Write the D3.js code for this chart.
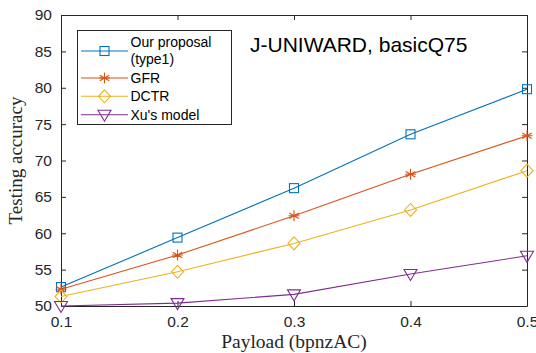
<!DOCTYPE html>
<html>
<head>
<meta charset="utf-8">
<script src="https://cdn.jsdelivr.net/npm/d3@7"></script>
<style>
  html, body { margin: 0; padding: 0; background: #fff; }
  svg { display: block; }
</style>
</head>
<body>
<svg id="chart" width="536" height="353"></svg>
<script>
// Payload values on the x axis
const payloads = [0.1, 0.2, 0.3, 0.4, 0.5];

// Testing accuracy (%) per detector
const ourProposal = [52.6, 59.4, 66.2, 73.6, 79.8];
const gfr         = [52.3, 57.0, 62.4, 68.1, 73.4];
const dctr        = [51.3, 54.7, 58.6, 63.2, 68.6];
const xuModel     = [50.0, 50.4, 51.6, 54.4, 56.9];

const seriesNames = ["Our proposal", "GFR", "DCTR", "Xu's model"];
const xTicks = [0.1, 0.2, 0.3, 0.4, 0.5];
const yTicks = [50, 55, 60, 65, 70, 75, 80, 85, 90];

const series = [
  { name: seriesNames[0], values: ourProposal, color: "#0072BD", marker: "square" },
  { name: seriesNames[1], values: gfr,         color: "#D95319", marker: "asterisk" },
  { name: seriesNames[2], values: dctr,        color: "#EDB120", marker: "diamond" },
  { name: seriesNames[3], values: xuModel,     color: "#7E2F8E", marker: "triangleDown" }
];

const svg = d3.select("#chart");
const plotLeft = 61, plotRight = 527, plotTop = 15, plotBottom = 306;

const x = d3.scaleLinear().domain([0.1, 0.5]).range([plotLeft, plotRight]);
const y = d3.scaleLinear().domain([50, 90]).range([plotBottom, plotTop]);

const axisColor = "#262626";
const sansFont = "Helvetica, Arial, 'Liberation Sans', sans-serif";
const serifFont = "'Liberation Serif', 'Times New Roman', serif";
const tickLen = 5;

// Axes: ticks pointing inward, mirrored on top and right
const gx = svg.append("g").attr("transform", `translate(0,${plotBottom})`)
  .call(d3.axisBottom(x).tickValues(xTicks).tickFormat(d3.format(".1f")).tickSizeInner(-tickLen).tickSizeOuter(0).tickPadding(10));
const gxTop = svg.append("g").attr("transform", `translate(0,${plotTop})`)
  .call(d3.axisTop(x).tickValues(xTicks).tickFormat("").tickSizeInner(-tickLen).tickSizeOuter(0));
const gy = svg.append("g").attr("transform", `translate(${plotLeft},0)`)
  .call(d3.axisLeft(y).tickValues(yTicks).tickSizeInner(-tickLen).tickSizeOuter(0).tickPadding(9));
const gyRight = svg.append("g").attr("transform", `translate(${plotRight},0)`)
  .call(d3.axisRight(y).tickValues(yTicks).tickFormat("").tickSizeInner(-tickLen).tickSizeOuter(0));

[gx, gxTop, gy, gyRight].forEach(g => {
  g.select(".domain").attr("stroke", axisColor).attr("stroke-width", 1);
  g.selectAll(".tick line").attr("stroke", axisColor).attr("stroke-width", 1);
  g.selectAll(".tick text").attr("fill", axisColor)
    .style("font-family", sansFont).style("font-size", "15.5px");
});

// Axis labels
svg.append("text")
  .attr("x", (plotLeft + plotRight) / 2).attr("y", 348)
  .attr("text-anchor", "middle")
  .style("font-family", serifFont)
  .style("font-size", "19.5px").attr("fill", axisColor)
  .text("Payload (bpnzAC)");

svg.append("text")
  .attr("transform", `translate(22,${(plotTop + plotBottom) / 2}) rotate(-90)`)
  .attr("text-anchor", "middle")
  .style("font-family", serifFont)
  .style("font-size", "19px").attr("fill", axisColor)
  .text("Testing accuracy");

// Title inside the plot
svg.append("text")
  .attr("x", 250).attr("y", 51.5)
  .attr("text-anchor", "start")
  .style("font-family", sansFont)
  .style("font-size", "21px").attr("fill", "#000")
  .text("J-UNIWARD, basicQ75");

// Marker drawing helper
function drawMarker(g, kind, cx, cy, color) {
  const s = g.append("g").attr("transform", `translate(${cx},${cy})`);
  const common = el => el.attr("fill", "none").attr("stroke", color).attr("stroke-width", 1.1);
  if (kind === "square") {
    common(s.append("rect").attr("x", -4.5).attr("y", -4.5).attr("width", 9).attr("height", 9));
  } else if (kind === "diamond") {
    common(s.append("path").attr("d", "M0,-6.5L6,0L0,6.5L-6,0Z"));
  } else if (kind === "triangleDown") {
    common(s.append("path").attr("d", "M-6.5,-4.5L6.5,-4.5L0,6.5Z"));
  } else if (kind === "asterisk") {
    const r = 5.5;
    const d = [0, 60, 120].map(a => {
      const t = a * Math.PI / 180;
      return `M${-r * Math.sin(t)},${-r * Math.cos(t)}L${r * Math.sin(t)},${r * Math.cos(t)}`;
    }).join("") + `M${-r},0L${r},0`;
    common(s.append("path").attr("d", d));
  }
}

// Lines and markers
const line = d3.line().x((d, i) => x(payloads[i])).y(d => y(d));
series.forEach(s => {
  svg.append("path").datum(s.values)
    .attr("d", line).attr("fill", "none")
    .attr("stroke", s.color).attr("stroke-width", 1.1);
  const mg = svg.append("g");
  s.values.forEach((v, i) => drawMarker(mg, s.marker, x(payloads[i]), y(v), s.color));
});

// Legend
const legend = svg.append("g");
legend.append("rect")
  .attr("x", 77.5).attr("y", 30.5).attr("width", 154).attr("height", 94)
  .attr("fill", "#fff").attr("stroke", axisColor).attr("stroke-width", 1);

const legendRows = [51, 78, 96.3, 114.7];
const legendFont = "14px";
series.forEach((s, i) => {
  const cy = legendRows[i];
  legend.append("line").attr("x1", 81).attr("x2", 128).attr("y1", cy).attr("y2", cy)
    .attr("stroke", s.color).attr("stroke-width", 1.1);
  drawMarker(legend, s.marker, 104.5, cy, s.color);
  if (i > 0) {
    legend.append("text").attr("x", 130.5).attr("y", cy + 5)
      .style("font-family", sansFont).style("font-size", legendFont).attr("fill", "#000")
      .text(s.name);
  }
});
// First entry wraps onto two lines
const firstLabel = legend.append("text")
  .style("font-family", sansFont).style("font-size", legendFont).attr("fill", "#000");
firstLabel.append("tspan").attr("x", 130.5).attr("y", 46.5).text(seriesNames[0]);
firstLabel.append("tspan").attr("x", 130.5).attr("y", 64).text("(type1)");
</script>
</body>
</html>
